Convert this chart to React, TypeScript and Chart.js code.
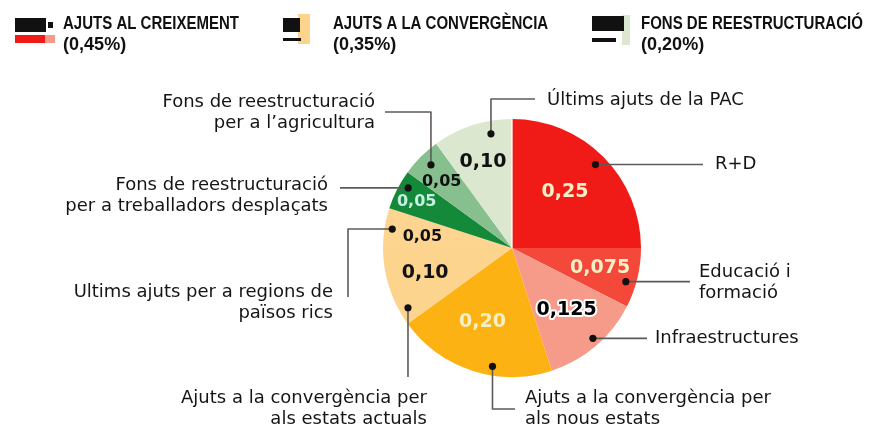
import React, { useEffect, useRef } from 'react';
import { Chart, registerables } from 'chart.js';
Chart.register(...registerables);

// ---------- DATA ----------
const categories = [
  'R+D',
  'Educació i formació',
  'Infraestructures',
  'Ajuts a la convergència per als nous estats',
  'Ajuts a la convergència per als estats actuals',
  'Ultims ajuts per a regions de països rics',
  'Fons de reestructuració per a treballadors desplaçats',
  'Fons de reestructuració per a l’agricultura',
  'Últims ajuts de la PAC',
];
const values = [0.25, 0.075, 0.125, 0.2, 0.1, 0.05, 0.05, 0.05, 0.1];
const valueLabels = ['0,25', '0,075', '0,125', '0,20', '0,10', '0,05', '0,05', '0,05', '0,10'];
const calloutLines = [
  ['R+D'],
  ['Educació i', 'formació'],
  ['Infraestructures'],
  ['Ajuts a la convergència per', 'als nous estats'],
  ['Ajuts a la convergència per', 'als estats actuals'],
  ['Ultims ajuts per a regions de', 'països rics'],
  ['Fons de reestructuració', 'per a treballadors desplaçats'],
  ['Fons de reestructuració', 'per a l’agricultura'],
  ['Últims ajuts de la PAC'],
];
const groupNames = ['AJUTS AL CREIXEMENT', 'AJUTS A LA CONVERGÈNCIA', 'FONS DE REESTRUCTURACIÓ'];
const groupShares = ['(0,45%)', '(0,35%)', '(0,20%)'];

// ---------- STYLE / LAYOUT ----------
const sliceColors = ['#f01a17', '#f4483a', '#f69a8a', '#fdb214', '#fdd48e', '#fdd590', '#15893a', '#88bf8e', '#dbe8cf'];
const labelColors = ['#f7f0c6', '#f7f0c6', '#000000', '#f7f0c6', '#111111', '#111111', '#c6f0e2', '#111111', '#111111'];
const labelSizes = [19, 19, 19, 19, 19, 16, 16, 16, 19];
const labelPos = [ // [fraction along slice, fraction of radius]
  [0.48, 0.6], [0.47, 0.7], [0.48, 0.64], [0.55, 0.62], [0.56, 0.7],
  [0.39, 0.7], [0.43, 0.82], [0.41, 0.75], [0.48, 0.7],
];
const dotPos = [
  [0.5, 0.915], [0.61, 0.92], [0.47, 0.94], [0.38, 0.93], [0.17, 0.93],
  [0.5, 0.94], [0.67, 0.93], [0.54, 0.9], [0.71, 0.9],
];
// leader segments: ['h', x] horizontal to x, ['v', y] vertical to y
const leaderPaths: [string, number][][] = [
  [['h', 703]],
  [['h', 690]],
  [['h', 647]],
  [['v', 409], ['h', 515]],
  [['v', 377]],
  [['h', 348], ['v', 297]],
  [['h', 340]],
  [['v', 112], ['h', 385]],
  [['v', 99], ['h', 535]],
];
// text anchor: [x, y of first line, align]
const textAnchors: [number, number, CanvasTextAlign][] = [
  [715, 164, 'left'],
  [699, 272, 'left'],
  [655, 338, 'left'],
  [525, 398, 'left'],
  [427, 398, 'right'],
  [333, 292, 'right'],
  [328, 185, 'right'],
  [375, 102, 'right'],
  [547, 100, 'left'],
];
const legendX = [63, 333, 641];

const overlay = {
  id: 'overlay',
  afterDatasetsDraw(chart: any) {
    const ctx: CanvasRenderingContext2D = chart.ctx;
    const meta = chart.getDatasetMeta(0);
    ctx.save();
    const pt = (arc: any, t: number, rf: number) => {
      const a = arc.startAngle + (arc.endAngle - arc.startAngle) * t;
      return [arc.x + Math.cos(a) * arc.outerRadius * rf, arc.y + Math.sin(a) * arc.outerRadius * rf];
    };
    // thin light separator at the top
    const first = meta.data[0];
    ctx.strokeStyle = 'rgba(255,255,255,0.85)';
    ctx.lineWidth = 1.5;
    ctx.beginPath();
    ctx.moveTo(first.x, first.y);
    ctx.lineTo(first.x + Math.cos(first.startAngle) * first.outerRadius, first.y + Math.sin(first.startAngle) * first.outerRadius);
    ctx.stroke();
    // value labels
    meta.data.forEach((arc: any, i: number) => {
      const [x, y] = pt(arc, labelPos[i][0], labelPos[i][1]);
      ctx.font = `bold ${labelSizes[i]}px 'DejaVu Sans'`;
      ctx.textAlign = 'center';
      ctx.textBaseline = 'middle';
      if (i === 2) {
        ctx.lineWidth = 4;
        ctx.strokeStyle = '#ffffff';
        ctx.lineJoin = 'round';
        ctx.strokeText(valueLabels[i], x, y);
      }
      ctx.fillStyle = labelColors[i];
      ctx.fillText(valueLabels[i], x, y);
    });
    // leaders
    meta.data.forEach((arc: any, i: number) => {
      const [dx, dy] = pt(arc, dotPos[i][0], dotPos[i][1]);
      ctx.strokeStyle = '#5f5a58';
      ctx.lineWidth = 1.6;
      ctx.beginPath();
      let cx = dx, cy = dy;
      ctx.moveTo(cx, cy);
      leaderPaths[i].forEach(([k, v]) => {
        if (k === 'h') cx = v; else cy = v;
        ctx.lineTo(cx, cy);
      });
      ctx.stroke();
      ctx.fillStyle = '#111111';
      ctx.beginPath();
      ctx.arc(dx, dy, 3.6, 0, Math.PI * 2);
      ctx.fill();
      const [tx, ty, al] = textAnchors[i];
      ctx.font = "18px 'DejaVu Sans'";
      ctx.textAlign = al;
      ctx.textBaseline = 'middle';
      ctx.fillStyle = '#151515';
      calloutLines[i].forEach((ln, j) => ctx.fillText(ln, tx, ty + j * 21));
    });
    // legend swatches
    ctx.fillStyle = '#111';
    ctx.fillRect(15, 18, 31, 14);
    ctx.fillRect(48, 22, 5, 6);
    ctx.fillStyle = sliceColors[0];
    ctx.fillRect(15, 35, 30, 8);
    ctx.fillStyle = sliceColors[2];
    ctx.fillRect(45, 35, 10, 8);
    ctx.fillStyle = sliceColors[4];
    ctx.fillRect(298, 14, 12, 30);
    ctx.fillStyle = '#111';
    ctx.fillRect(283, 18, 17, 14);
    ctx.fillRect(283, 38, 18, 3);
    ctx.fillStyle = sliceColors[8];
    ctx.fillRect(622, 15, 8, 30);
    ctx.fillStyle = '#111';
    ctx.fillRect(592, 16, 32, 15);
    ctx.fillRect(592, 38, 24, 4);
    // legend text (condensed bold)
    ctx.textAlign = 'left';
    ctx.textBaseline = 'middle';
    ctx.fillStyle = '#111';
    ctx.font = "bold 19px 'Liberation Sans', Arial, sans-serif";
    groupNames.forEach((g, i) => {
      ctx.save();
      ctx.translate(legendX[i], 24);
      ctx.scale(0.79, 1);
      ctx.fillText(g, 0, 0);
      ctx.restore();
      ctx.save();
      ctx.translate(legendX[i], 45);
      ctx.scale(0.95, 1);
      ctx.fillText(groupShares[i], 0, 0);
      ctx.restore();
    });
    ctx.restore();
  },
};

export default function App() {
  const ref = useRef<HTMLCanvasElement>(null);
  useEffect(() => {
    if (!ref.current) return;
    const chart = new Chart(ref.current, {
      type: 'pie',
      data: {
        labels: categories,
        datasets: [{
          data: values,
          backgroundColor: sliceColors,
          borderWidth: 0,
          hoverBorderWidth: 0,
          hoverOffset: 0,
        }],
      },
      options: {
        animation: false,
        responsive: true,
        maintainAspectRatio: false,
        layout: { padding: { left: 383, right: 229, top: 119, bottom: 50 } },
        plugins: { legend: { display: false }, tooltip: { enabled: false } },
        events: [],
      },
      plugins: [overlay],
    });
    return () => chart.destroy();
  }, []);
  return (
    <div style={{ position: 'absolute', left: 0, top: 0, width: 870, height: 427, background: '#ffffff' }}>
      <canvas ref={ref} />
    </div>
  );
}
